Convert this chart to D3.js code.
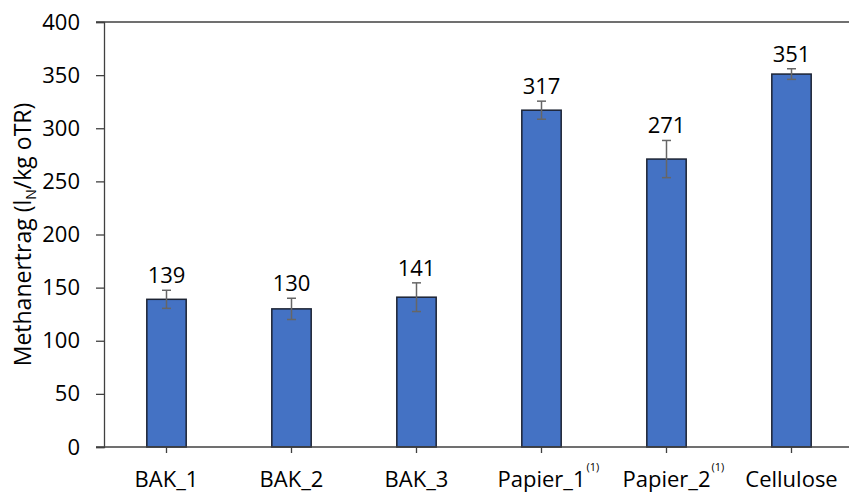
<!DOCTYPE html>
<html>
<head>
<meta charset="utf-8">
<script src="https://cdn.jsdelivr.net/npm/d3@7"></script>
<style>
  body { margin: 0; background: #fff; }
  svg text { font-family: "Open Sans", "Liberation Sans", sans-serif; fill: #000; }
</style>
</head>
<body>
<div id="chart"></div>
<script>
"use strict";

const categories = ["BAK_1", "BAK_2", "BAK_3", "Papier_1", "Papier_2", "Cellulose"];
const footnotes = ["", "", "", "(1)", "(1)", ""];
const yields = [139, 130, 141, 317, 271, 351];
const errors = [8.5, 10, 13.5, 8.5, 17.5, 5];
const yTicks = [0, 50, 100, 150, 200, 250, 300, 350, 400];

const width = 849, height = 493;
const margin = {top: 22, left: 104, bottom: 46};

const svg = d3.select("#chart")
    .append("svg")
    .attr("width", width)
    .attr("height", height);

const x = d3.scaleBand()
    .domain(categories)
    .range([margin.left, margin.left + 750])
    .paddingInner(0.685)
    .paddingOuter(0.3425);

const y = d3.scaleLinear()
    .domain([0, 400])
    .range([height - margin.bottom, margin.top]);

// frame line at top
svg.append("line")
    .attr("x1", margin.left - 8).attr("x2", width)
    .attr("y1", y(400)).attr("y2", y(400))
    .attr("stroke", "#404040").attr("stroke-width", 1.3);

// y axis
const yAxis = svg.append("g")
    .attr("transform", `translate(${margin.left},0)`)
    .call(d3.axisLeft(y).tickValues(yTicks).tickSize(8).tickPadding(16));
yAxis.select(".domain").attr("stroke", "#404040").attr("stroke-width", 1.3);
yAxis.selectAll(".tick line").attr("stroke", "#404040").attr("stroke-width", 1.3);
yAxis.selectAll(".tick text").style("font-size", "22px");

// bars
svg.selectAll("rect.bar")
    .data(yields)
    .enter()
    .append("rect")
    .attr("class", "bar")
    .attr("x", (d, i) => x(categories[i]))
    .attr("y", d => y(d))
    .attr("width", x.bandwidth())
    .attr("height", d => y(0) - y(d))
    .style("fill", "#4472C4")
    .style("stroke", "#1c2333")
    .style("stroke-width", 1.5);

// error bars
const eb = svg.selectAll("g.err")
    .data(yields)
    .enter()
    .append("g")
    .attr("class", "err")
    .attr("stroke", "#666")
    .attr("stroke-width", 1.5);
const cx = i => x(categories[i]) + x.bandwidth() / 2;
eb.append("line")
    .attr("x1", (d, i) => cx(i)).attr("x2", (d, i) => cx(i))
    .attr("y1", (d, i) => y(d + errors[i])).attr("y2", (d, i) => y(d - errors[i]));
eb.append("line")
    .attr("x1", (d, i) => cx(i) - 4.5).attr("x2", (d, i) => cx(i) + 4.5)
    .attr("y1", (d, i) => y(d + errors[i])).attr("y2", (d, i) => y(d + errors[i]));
eb.append("line")
    .attr("x1", (d, i) => cx(i) - 4.5).attr("x2", (d, i) => cx(i) + 4.5)
    .attr("y1", (d, i) => y(d - errors[i])).attr("y2", (d, i) => y(d - errors[i]));

// value labels
svg.selectAll("text.val")
    .data(yields)
    .enter()
    .append("text")
    .attr("class", "val")
    .attr("x", (d, i) => cx(i))
    .attr("y", (d, i) => y(d + errors[i]) - 7)
    .attr("text-anchor", "middle")
    .style("font-size", "22px")
    .text(d => d);

// x axis
const xAxis = svg.append("g")
    .attr("transform", `translate(0,${y(0)})`)
    .call(d3.axisBottom(x).tickSize(6).tickFormat(() => ""));
xAxis.select(".domain").attr("stroke", "#404040").attr("stroke-width", 1.3)
    .attr("d", `M${margin.left - 8},0H${width}`);
xAxis.selectAll(".tick line").attr("stroke", "#404040").attr("stroke-width", 1.3);
xAxis.selectAll(".tick text").remove();
xAxis.selectAll(".tick")
    .append("text")
    .attr("y", 40)
    .attr("text-anchor", "middle")
    .style("font-size", "22px")
    .each(function(d, i) {
      const t = d3.select(this);
      t.append("tspan").text(d);
      if (footnotes[i]) {
        t.append("tspan").attr("dy", -16).attr("dx", 1).style("font-size", "11px").text(footnotes[i]);
      }
    });
// keep the main word centred on the tick
xAxis.selectAll(".tick text").each(function(d, i) {
  if (footnotes[i]) {
    const w = this.firstChild.getComputedTextLength();
    d3.select(this).attr("text-anchor", "start").attr("x", -w / 2);
  }
});

// y label
const yl = svg.append("text")
    .attr("transform", `translate(31,${(y(0) + y(400)) / 2}) rotate(-90)`)
    .attr("text-anchor", "middle")
    .style("font-size", "23px");
yl.append("tspan").text("Methanertrag (l");
yl.append("tspan").attr("dy", 5).style("font-size", "14px").text("N");
yl.append("tspan").attr("dy", -5).text("/kg oTR)");
</script>
</body>
</html>
